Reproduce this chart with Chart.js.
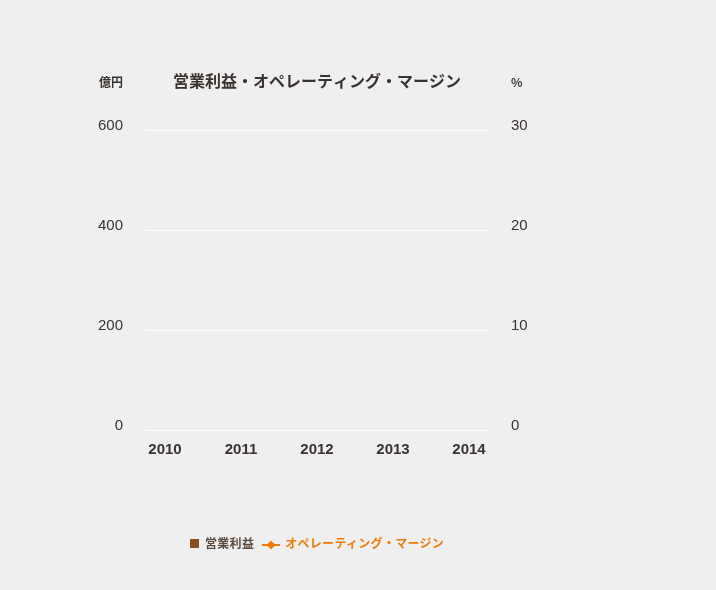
<!DOCTYPE html>
<html>
<head>
<meta charset="utf-8">
<script src="https://cdn.jsdelivr.net/npm/chart.js@4/dist/chart.umd.min.js"></script>
<style>
  html, body { margin: 0; padding: 0; background: #efefef; }
  #wrap { position: relative; width: 716px; height: 590px; }
  #legend {
    position: absolute; top: 534px; left: 190px;
    font-family: "Noto Sans CJK JP", sans-serif; font-size: 12px; font-weight: bold;
    letter-spacing: 0.3px; white-space: nowrap; line-height: 18px;
  }
  #legend .sq { display: inline-block; width: 9px; height: 9px; background: #8a4f1e; margin-right: 6px; vertical-align: 0px; }
  #legend .bar { color: #5b4a3e; margin-right: 8px; }
  #legend .line { color: #f07a0a; }
  #legend svg { vertical-align: -2px; margin-right: 5px; }
</style>
</head>
<body>
<div id="wrap">
  <canvas id="myChart" width="716" height="590"></canvas>
  <div id="legend">
    <span class="sq"></span><span class="bar">営業利益</span><svg width="18" height="10"><line x1="0" y1="5" x2="18" y2="5" stroke="#f07a0a" stroke-width="2"/><polygon points="9,0.5 13.5,5 9,9.5 4.5,5" fill="#f07a0a"/></svg><span class="line">オペレーティング・マージン</span>
  </div>
</div>
<script>
// データ（グラフに値は描かれていないので空）
var years = ['2010', '2011', '2012', '2013', '2014'];
var operatingProfit = [null, null, null, null, null];   // 億円
var operatingMargin = [null, null, null, null, null];   // %
var profitTicks = [0, 200, 400, 600];
var marginTicks = [0, 10, 20, 30];

var chartTitle = '営業利益・オペレーティング・マージン';
var leftUnit = '億円';
var rightUnit = '%';

var font = '"Noto Sans CJK JP", sans-serif';
var numFont = '"Liberation Sans", Arial, sans-serif';
var textColor = '#3a3330';

// タイトルと単位ラベル
var labelsPlugin = {
  id: 'labels',
  afterDraw: function(chart) {
    var ctx = chart.ctx;
    var area = chart.chartArea;
    ctx.save();
    ctx.fillStyle = textColor;
    ctx.textBaseline = 'middle';
    ctx.font = 'bold 16px ' + font;
    ctx.textAlign = 'center';
    ctx.fillText(chartTitle, (area.left + area.right) / 2 - 0, 81);
    ctx.font = 'bold 12px ' + font;
    ctx.textAlign = 'right';
    ctx.fillText(leftUnit, 123, 82);
    ctx.textAlign = 'left';
    ctx.fillText(rightUnit, 511, 82);
    ctx.restore();
  }
};

var ctx = document.getElementById('myChart').getContext('2d');
var myChart = new Chart(ctx, {
  type: 'bar',
  data: {
    datasets: [{
      type: 'line',
      label: 'オペレーティング・マージン',
      data: operatingMargin.map(function(v, i) { return { x: i, y: v }; }),
      borderColor: '#f07a0a',
      backgroundColor: '#f07a0a',
      pointStyle: 'rectRot',
      yAxisID: 'y2'
    }, {
      label: '営業利益',
      data: operatingProfit.map(function(v, i) { return { x: i, y: v }; }),
      backgroundColor: '#8a4f1e',
      yAxisID: 'y'
    }]
  },
  options: {
    responsive: false,
    animation: false,
    layout: { padding: { top: 130, left: 0, right: 0, bottom: 0 } },
    plugins: { legend: { display: false }, tooltip: { enabled: false } },
    scales: {
      x: {
        type: 'linear',
        offset: false,
        min: -0.25,
        max: 4.25,
        afterBuildTicks: function(axis) {
          axis.ticks = years.map(function(y, i) { return { value: i }; });
        },
        afterFit: function(axis) { axis.height = 160; },
        grid: { display: false, drawTicks: false },
        border: { display: false },
        ticks: {
          padding: 11,
          color: textColor,
          font: { family: numFont, size: 15, weight: 'bold' },
          maxRotation: 0,
          callback: function(v) { return years[v]; }
        }
      },
      y: {
        position: 'left',
        min: 0,
        max: 600,
        afterBuildTicks: function(axis) {
          axis.ticks = profitTicks.map(function(v) { return { value: v }; });
        },
        afterFit: function(axis) { axis.width = 146; },
        grid: { color: '#ffffff', lineWidth: 1, drawTicks: false },
        border: { display: false },
        ticks: {
          padding: 23,
          labelOffset: -4,
          color: textColor,
          font: { family: numFont, size: 15 }
        }
      },
      y2: {
        position: 'right',
        min: 0,
        max: 30,
        afterBuildTicks: function(axis) {
          axis.ticks = marginTicks.map(function(v) { return { value: v }; });
        },
        afterFit: function(axis) { axis.width = 716 - 488; },
        grid: { display: false, drawTicks: false },
        border: { display: false },
        ticks: {
          padding: 23,
          labelOffset: -4,
          color: textColor,
          font: { family: numFont, size: 15 }
        }
      }
    }
  },
  plugins: [labelsPlugin]
});
</script>
</body>
</html>
